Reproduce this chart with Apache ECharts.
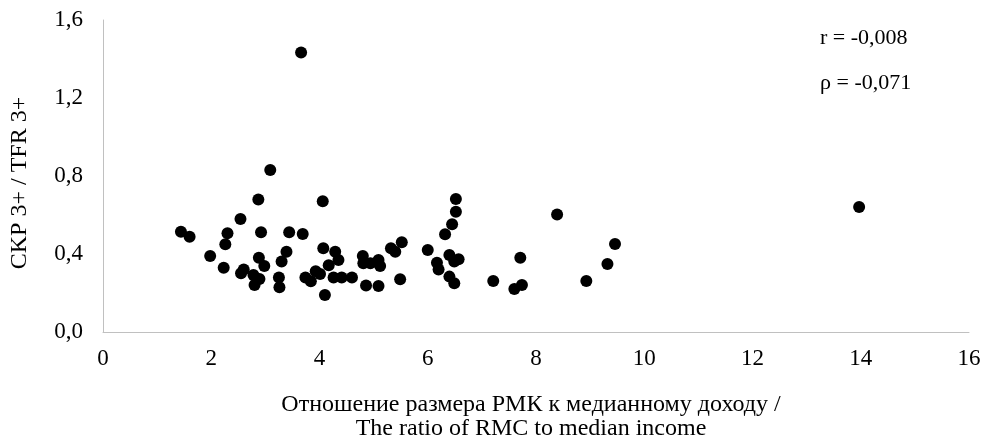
<!DOCTYPE html>
<html>
<head>
<meta charset="utf-8">
<script src="https://cdn.jsdelivr.net/npm/echarts@6/dist/echarts.min.js"></script>
<style>html,body{margin:0;padding:0;background:#fff}#c{width:993px;height:446px}</style>
</head>
<body>
<div id="c"></div>
<script>
const xTicks = [0, 2, 4, 6, 8, 10, 12, 14, 16];
const yTicks = [0.0, 0.4, 0.8, 1.2, 1.6];
const xValues = [1.44,1.60,2.87,2.54,4.06,2.30,2.26,1.98,2.23,2.92,3.44,3.69,2.88,2.98,3.39,3.30,2.55,2.60,2.78,2.89,2.80,3.25,3.26,3.74,3.84,3.93,4.01,4.10,4.07,4.17,4.29,4.35,4.26,4.41,4.60,4.80,4.81,4.94,5.09,4.86,5.09,5.12,5.32,5.40,5.52,5.49,6.00,6.17,6.20,6.32,6.45,6.52,6.52,6.40,6.49,6.57,6.40,6.49,7.21,7.71,7.60,7.74,8.39,8.93,9.32,9.46,13.97,3.66,3.09];
const yValues = [0.514,0.489,0.680,0.579,0.670,0.506,0.450,0.390,0.330,0.511,0.511,0.503,0.381,0.338,0.412,0.361,0.301,0.321,0.292,0.272,0.241,0.280,0.229,0.280,0.260,0.311,0.297,0.190,0.429,0.342,0.412,0.369,0.280,0.280,0.280,0.390,0.352,0.352,0.369,0.239,0.236,0.338,0.429,0.412,0.460,0.270,0.421,0.355,0.321,0.501,0.552,0.617,0.682,0.395,0.361,0.373,0.284,0.250,0.262,0.381,0.221,0.241,0.602,0.262,0.349,0.451,0.641,1.433,0.831];
const xTitle1 = 'Отношение размера РМК к медианному доходу /';
const xTitle2 = 'The ratio of RMC to median income';
const yTitle = 'CKP 3+ / TFR 3+';
const stat1 = 'r = -0,008';
const stat2 = 'ρ = -0,071';

const FONT = '"Liberation Serif", "Times New Roman", serif';
const FS_TICK = 23;
const FS_TITLE = 24;
const FS_STAT = 22;
const points = xValues.map((x, i) => [x, yValues[i]]);

const chart = echarts.init(document.getElementById('c'), null, {renderer: 'canvas'});
chart.setOption({
  animation: false,
  backgroundColor: '#fff',
  grid: {left: 103, right: 24, top: 20, bottom: 114, containLabel: false},
  xAxis: {
    type: 'value', min: xTicks[0], max: xTicks[xTicks.length - 1], interval: 2,
    axisLine: {show: true, onZero: false, lineStyle: {color: '#c0c0c0', width: 1}},
    axisTick: {show: false},
    splitLine: {show: false},
    axisLabel: {color: '#000', fontFamily: FONT, fontSize: FS_TICK, margin: 15,
      formatter: v => String(v)}
  },
  yAxis: {
    type: 'value', min: yTicks[0], max: yTicks[yTicks.length - 1], interval: 0.4,
    axisLine: {show: true, onZero: false, lineStyle: {color: '#c0c0c0', width: 1}},
    axisTick: {show: false},
    splitLine: {show: false},
    axisLabel: {color: '#000', fontFamily: FONT, fontSize: FS_TICK, margin: 20,
      formatter: v => v.toFixed(1).replace('.', ',')}
  },
  series: [{
    type: 'scatter',
    data: points,
    symbol: 'circle',
    symbolSize: 12,
    itemStyle: {color: '#000', opacity: 1}
  }],
  graphic: [
    {type: 'text', x: 531, y: 405, style: {text: xTitle1, fill: '#000', font: FS_TITLE + 'px ' + FONT, textAlign: 'center', textVerticalAlign: 'middle'}},
    {type: 'text', x: 531, y: 429, style: {text: xTitle2, fill: '#000', font: FS_TITLE + 'px ' + FONT, textAlign: 'center', textVerticalAlign: 'middle'}},
    {type: 'text', x: 20, y: 183, rotation: Math.PI / 2, style: {text: yTitle, fill: '#000', font: FS_TITLE + 'px ' + FONT, textAlign: 'center', textVerticalAlign: 'middle'}},
    {type: 'text', x: 820, y: 38, style: {text: stat1, fill: '#000', font: FS_STAT + 'px ' + FONT, textAlign: 'left', textVerticalAlign: 'middle'}},
    {type: 'text', x: 820, y: 83, style: {text: stat2, fill: '#000', font: FS_STAT + 'px ' + FONT, textAlign: 'left', textVerticalAlign: 'middle'}}
  ]
});
</script>
</body>
</html>
